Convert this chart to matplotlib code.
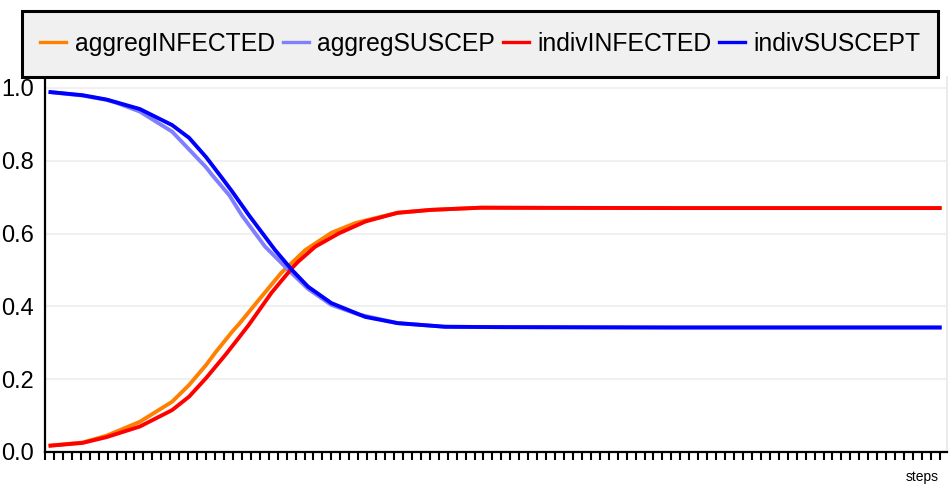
import matplotlib
matplotlib.use("Agg")
import matplotlib.pyplot as plt
from matplotlib.patches import Rectangle
from matplotlib.lines import Line2D

plt.rcParams['font.family'] = ['Liberation Sans', 'DejaVu Sans']

# ---- data ----
aggreg_inf_x = [0.4, 4.2, 6.9, 10.6, 14.2, 16.1, 18.0, 19.1, 20.9, 21.7, 24.2, 26.4, 29.1, 32.0, 34.7, 36.5, 39.4, 43.1, 48.7, 60, 80, 100.2]
aggreg_inf_y = [0.017, 0.026, 0.045, 0.083, 0.138, 0.184, 0.239, 0.275, 0.330, 0.352, 0.427, 0.492, 0.555, 0.602, 0.629, 0.640, 0.657, 0.665, 0.671, 0.670, 0.670, 0.670]

aggreg_sus_x = [0.4, 4.2, 6.9, 8.0, 10.6, 14.2, 18.0, 18.7, 20.6, 22.0, 24.6, 27.2, 29.4, 32.0, 35.0, 39.4, 44.7, 50.6, 70, 100.2]
aggreg_sus_y = [0.989, 0.979, 0.967, 0.959, 0.935, 0.880, 0.782, 0.760, 0.705, 0.650, 0.564, 0.500, 0.448, 0.404, 0.378, 0.354, 0.344, 0.343, 0.342, 0.342]

indiv_inf_x = [0.4, 4.2, 6.9, 10.6, 14.2, 16.1, 18.0, 20.2, 21.7, 22.8, 25.3, 27.6, 28.3, 30.2, 32.8, 35.8, 39.4, 43.1, 48.7, 70, 100.2]
indiv_inf_y = [0.017, 0.025, 0.041, 0.070, 0.115, 0.152, 0.203, 0.268, 0.315, 0.350, 0.437, 0.505, 0.523, 0.564, 0.600, 0.633, 0.657, 0.665, 0.671, 0.670, 0.670]

indiv_sus_x = [0.4, 4.2, 6.9, 10.6, 14.2, 16.1, 18.0, 19.8, 20.9, 22.8, 25.7, 27.6, 29.4, 32.0, 35.8, 39.4, 44.7, 50.6, 70, 100.2]
indiv_sus_y = [0.989, 0.980, 0.968, 0.942, 0.898, 0.863, 0.810, 0.752, 0.716, 0.650, 0.555, 0.500, 0.454, 0.409, 0.371, 0.354, 0.344, 0.343, 0.342, 0.342]

series_names = ['aggregINFECTED', 'aggregSUSCEP', 'indivINFECTED', 'indivSUSCEPT']
series_colors = ['#ff8000', '#8080ff', '#ff0000', '#0000ff']
y_ticks = [0.0, 0.2, 0.4, 0.6, 0.8, 1.0]
y_tick_labels = ['0.0', '0.2', '0.4', '0.6', '0.8', '1.0']
x_ticks = list(range(0, 101))
x_label = 'steps'

# ---- figure ----
W, H = 950, 488
fig = plt.figure(figsize=(W / 100, H / 100), dpi=100)
ax_l, ax_r, ax_t, ax_b = 45, 947, 77, 452
ax = fig.add_axes([ax_l / W, 1 - ax_b / H, (ax_r - ax_l) / W, (ax_b - ax_t) / H])

xs = [aggreg_inf_x, aggreg_sus_x, indiv_inf_x, indiv_sus_x]
ys = [aggreg_inf_y, aggreg_sus_y, indiv_inf_y, indiv_sus_y]
for x, y, c, n in zip(xs, ys, series_colors, series_names):
    ax.plot(x, y, color=c, lw=2.8, label=n, solid_capstyle='butt', zorder=3)

ax.set_xlim(0, 100.8)
ax.set_ylim(0, 1.03)
ax.set_yticks(y_ticks)
ax.set_yticklabels(y_tick_labels, fontsize=17)
ax.set_xticks(x_ticks)
ax.set_xticklabels([])
ax.tick_params(axis='y', length=0, pad=8)
ax.tick_params(axis='x', length=6, width=1.5, direction='out')
ax.grid(axis='y', color='#f0f0f0', lw=1.5, zorder=0)
ax.set_axisbelow(True)
for s in ['left', 'bottom']:
    ax.spines[s].set_linewidth(1.6)
    ax.spines[s].set_color('black')
ax.spines['top'].set_visible(False)
ax.spines['right'].set_color('#ececec')
ax.spines['right'].set_linewidth(1.5)

fig.text(939 / W, 1 - 477 / H, x_label, fontsize=10, ha='right', va='center')

# legend box
bx0, bx1, by0, by1 = 22, 938, 11, 77
fig.patches.append(Rectangle((bx0 / W, 1 - by1 / H), (bx1 - bx0) / W, (by1 - by0) / H,
                             transform=fig.transFigure, facecolor='#f0f0f0',
                             edgecolor='black', lw=2.2, zorder=5))
handles = [Line2D([], [], color=c, lw=2.4) for c in series_colors]
leg = fig.legend(handles, series_names, loc='center',
                 bbox_to_anchor=(480.5 / W, 1 - 44 / H), ncol=4, frameon=False,
                 fontsize=17.8, handlelength=1.05, handletextpad=0.33,
                 columnspacing=0.33, borderpad=0, borderaxespad=0)
leg.set_zorder(6)

fig.savefig('out.png', dpi=100)
